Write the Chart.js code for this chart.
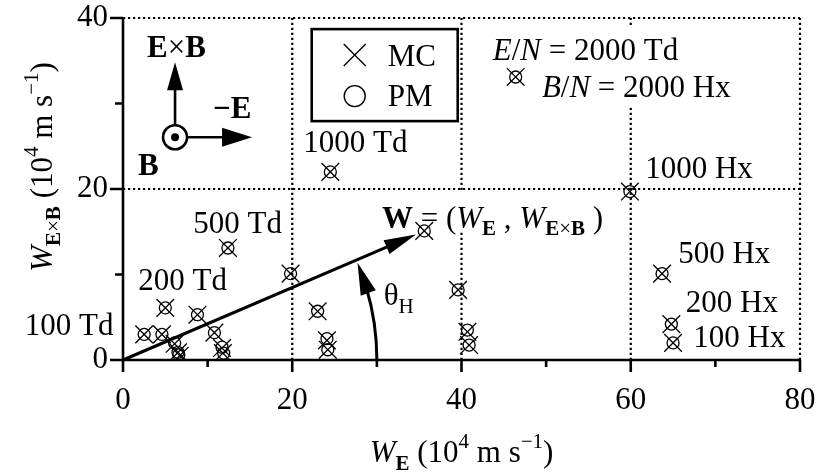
<!DOCTYPE html>
<html>
<head>
<meta charset="utf-8">
<title>Drift velocity components</title>
<script src="https://cdn.jsdelivr.net/npm/chart.js@4"></script>
<style>
  html, body { margin: 0; padding: 0; background: #fff; }
  #wrap { width: 825px; height: 472px; }
</style>
</head>
<body>
<div id="wrap"><canvas id="hallChart" width="825" height="472"></canvas></div>
<script>
const SERIF = '"Liberation Serif", "Times New Roman", serif';
const FS = 31;   // main text size
const FSS = 21;  // sub/superscript size

// axes
const xRange = [0, 80];
const yRange = [0, 40];
const xStep = 20, yStep = 20;
const xMinor = [10, 30, 50, 70];
const yMinor = [10, 30];

// drift velocity components, 10^4 m/s
const mcWE   = [2.5, 4.6, 5.0, 6.1, 6.5, 6.7, 8.8, 10.8, 11.7, 11.8, 12.4, 19.8, 23.0, 24.1, 24.2, 24.5, 35.6, 39.6, 40.7, 40.9, 46.4, 59.9, 63.7, 64.8, 65.0];
const mcWExB = [3.0, 3.0, 6.1, 1.9, 0.9, 0.5, 5.3, 3.2, 1.4, 0.8, 13.1, 10.1, 5.7, 2.3, 1.2, 22.0, 15.1, 8.2, 3.3, 1.75, 33.1, 19.7, 10.1, 4.2, 2.0];
const pmWE   = [2.5, 4.6, 5.0, 6.1, 6.5, 6.6, 8.8, 10.8, 11.7, 11.9, 12.4, 19.8, 23.0, 24.1, 24.2, 24.5, 35.6, 39.6, 40.7, 40.9, 46.4, 59.9, 63.7, 64.8, 65.0];
const pmWExB = [3.0, 3.0, 6.1, 2.0, 0.9, 0.6, 5.3, 3.2, 1.5, 0.8, 13.1, 10.1, 5.7, 2.5, 1.2, 22.0, 15.1, 8.2, 3.5, 1.75, 33.1, 19.7, 10.1, 4.2, 2.0];

// drift vector W and the radius of the Hall angle arc (in W_E units)
const wVector = [35.6, 15.1];
const arcRadius = 30;

// field labels next to the point groups
const fieldLabels = ['100 Td', '200 Td', '500 Td', '1000 Td', '1000 Hx', '500 Hx', '200 Hx', '100 Hx'];
const fieldLabelAt = [[-11.6, 2.9], [1.8, 8.2], [8.3, 14.85], [21.3, 24.35], [61.7, 21.3], [65.6, 11.35], [66.5, 5.6], [67.4, 1.5]];

const font = (size, style) => (style ? style + ' ' : '') + size + 'px ' + SERIF;

// draws a run of text pieces [text, font, dy] starting at x
function richText(ctx, parts, x, y, align) {
  let w = 0;
  parts.forEach(p => { ctx.font = p[1]; w += ctx.measureText(p[0]).width; });
  let cx = align === 'center' ? x - w / 2 : x;
  parts.forEach(p => {
    ctx.font = p[1];
    ctx.fillText(p[0], cx, y + (p[2] || 0));
    cx += ctx.measureText(p[0]).width;
  });
  return w;
}

function arrowHead(ctx, tx, ty, ang, len, half) {
  const c = Math.cos(ang), s = Math.sin(ang);
  ctx.beginPath();
  ctx.moveTo(tx, ty);
  ctx.lineTo(tx - len * c + half * s, ty - len * s - half * c);
  ctx.lineTo(tx - len * c - half * s, ty - len * s + half * c);
  ctx.closePath();
  ctx.fill();
}

// bold E x B with a light cross, as subscript (dy) or full size
const exb = (size, dy) => [['E', font(size, 'bold'), dy], ['\u00d7', font(size), dy], ['B', font(size, 'bold'), dy]];

const eqLabel = [
  [['E', font(FS, 'italic')], ['/', font(FS)], ['N', font(FS, 'italic')], [' = 2000 Td', font(FS)]],
  [['B', font(FS, 'italic')], ['/', font(FS)], ['N', font(FS, 'italic')], [' = 2000 Hx', font(FS)]]
];
const wLabel = [
  ['W', font(FS, 'bold')], [' = (', font(FS)], ['W', font(FS, 'italic')], ['E', font(FSS, 'bold'), 7],
  [' , ', font(FS)], ['W', font(FS, 'italic')]].concat(exb(FSS, 7), [[' )', font(FS)]]);

// grid, axes, ticks and the white patches under some labels
const frame = {
  id: 'frame',
  beforeDatasetsDraw(chart) {
    const { ctx, chartArea: a, scales: { x, y } } = chart;
    ctx.save();
    ctx.strokeStyle = '#000';
    ctx.lineWidth = 2.2;
    ctx.setLineDash([2.2, 2.8]);
    for (let v = xRange[0] + xStep; v <= xRange[1]; v += xStep) {
      const px = x.getPixelForValue(v);
      ctx.beginPath(); ctx.moveTo(px, a.bottom); ctx.lineTo(px, a.top); ctx.stroke();
    }
    for (let v = yRange[0] + yStep; v <= yRange[1]; v += yStep) {
      const py = y.getPixelForValue(v);
      ctx.beginPath(); ctx.moveTo(a.left, py); ctx.lineTo(a.right, py); ctx.stroke();
    }
    ctx.setLineDash([]);

    // label backgrounds
    ctx.fillStyle = '#fff';
    ctx.fillRect(x.getPixelForValue(57.6), y.getPixelForValue(38.9), 22, 80);
    ctx.fillRect(x.getPixelForValue(37.5), y.getPixelForValue(19.8), 40, 40);

    // solid axes with outward ticks
    ctx.lineWidth = 2.6;
    ctx.beginPath();
    ctx.moveTo(a.left, a.top); ctx.lineTo(a.left, a.bottom); ctx.lineTo(a.right, a.bottom);
    for (let v = xRange[0]; v <= xRange[1]; v += xStep) {
      const px = x.getPixelForValue(v);
      ctx.moveTo(px, a.bottom); ctx.lineTo(px, a.bottom + 12);
    }
    xMinor.forEach(v => { const px = x.getPixelForValue(v); ctx.moveTo(px, a.bottom); ctx.lineTo(px, a.bottom + 7); });
    for (let v = yRange[0]; v <= yRange[1]; v += yStep) {
      const py = y.getPixelForValue(v);
      ctx.moveTo(a.left, py); ctx.lineTo(a.left - 13, py);
    }
    yMinor.forEach(v => { const py = y.getPixelForValue(v); ctx.moveTo(a.left, py); ctx.lineTo(a.left - 8, py); });
    ctx.stroke();
    ctx.restore();
  },
  afterDatasetsDraw(chart) {
    const { ctx, chartArea: a, scales: { x, y } } = chart;
    ctx.save();
    ctx.fillStyle = '#000';
    ctx.strokeStyle = '#000';
    ctx.textBaseline = 'alphabetic';
    ctx.textAlign = 'left';

    // W arrow from the origin
    const x0 = x.getPixelForValue(0), y0 = y.getPixelForValue(0);
    const wx = x.getPixelForValue(wVector[0]), wy = y.getPixelForValue(wVector[1]);
    const ang = Math.atan2(wy - y0, wx - x0);
    const tipX = wx - 9 * Math.cos(ang), tipY = wy - 9 * Math.sin(ang);
    ctx.lineWidth = 3;
    ctx.beginPath();
    ctx.moveTo(x0, y0);
    ctx.lineTo(tipX - 25 * Math.cos(ang), tipY - 25 * Math.sin(ang));
    ctx.stroke();
    arrowHead(ctx, tipX, tipY, ang, 32, 7.5);

    // Hall angle arc
    const r = x.getPixelForValue(arcRadius) - x0;
    const endAng = ang + 0.012;
    const headSpan = 26 / r;
    ctx.beginPath();
    ctx.arc(x0, y0, r, 0, endAng + headSpan, true);
    ctx.stroke();
    const hx = x0 + r * Math.cos(endAng), hy = y0 + r * Math.sin(endAng);
    arrowHead(ctx, hx, hy, endAng - Math.PI / 2 + 0.05, 32, 8);
    richText(ctx, [['\u03b8', font(FS)], ['H', font(FSS), 8]], x.getPixelForValue(30.8), y.getPixelForValue(6.4), 'left');

    // field labels
    ctx.font = font(FS);
    fieldLabels.forEach((t, i) => ctx.fillText(t, x.getPixelForValue(fieldLabelAt[i][0]), y.getPixelForValue(fieldLabelAt[i][1])));
    richText(ctx, eqLabel[0], x.getPixelForValue(43.7), y.getPixelForValue(35.1), 'left');
    richText(ctx, eqLabel[1], x.getPixelForValue(49.5), y.getPixelForValue(30.75), 'left');
    richText(ctx, wLabel, x.getPixelForValue(30.6), y.getPixelForValue(15.45), 'left');

    // legend box
    const lx = x.getPixelForValue(22.3), ly = y.getPixelForValue(38.7);
    ctx.fillStyle = '#fff';
    ctx.fillRect(lx, ly, 146, 92);
    ctx.lineWidth = 2.6;
    ctx.strokeRect(lx, ly, 146, 92);
    ctx.fillStyle = '#000';
    ctx.lineWidth = 1.4;
    const mx = lx + 43;
    ctx.beginPath();
    ctx.moveTo(mx - 11, ly + 15); ctx.lineTo(mx + 11, ly + 37);
    ctx.moveTo(mx + 11, ly + 15); ctx.lineTo(mx - 11, ly + 37);
    ctx.stroke();
    ctx.beginPath(); ctx.arc(mx, ly + 67, 10.5, 0, Math.PI * 2); ctx.stroke();
    ctx.font = font(FS);
    chart.data.datasets.forEach((ds, i) => ctx.fillText(ds.label, lx + 76, ly + 37 + i * 40));

    // field orientation sketch
    const cx = x.getPixelForValue(6.15), cy = y.getPixelForValue(26.05);
    ctx.lineWidth = 2.6;
    ctx.beginPath(); ctx.arc(cx, cy, 12, 0, Math.PI * 2); ctx.stroke();
    ctx.beginPath(); ctx.arc(cx, cy, 4, 0, Math.PI * 2); ctx.fill();
    ctx.beginPath();
    ctx.moveTo(cx, cy - 12); ctx.lineTo(cx, cy - 50);
    ctx.moveTo(cx + 12, cy); ctx.lineTo(cx + 50, cy);
    ctx.stroke();
    arrowHead(ctx, cx, cy - 75, -Math.PI / 2, 28, 8);
    arrowHead(ctx, cx + 77, cy, 0, 30, 9.5);
    richText(ctx, exb(FS, 0), cx - 28, cy - 80, 'left');
    ctx.font = font(FS, 'bold');
    ctx.fillText('\u2212E', cx + 38, cy - 19);
    ctx.fillText('B', cx - 37, cy + 38);

    // axis titles
    const unit = [[' (10', font(FS)], ['4', font(FSS), -14], [' m s', font(FS)], ['\u22121', font(FSS), -14], [')', font(FS)]];
    richText(ctx, [['W', font(FS, 'italic')], ['E', font(FSS, 'bold'), 8]].concat(unit), (a.left + a.right) / 2, 462, 'center');
    ctx.translate(52, (a.top + a.bottom) / 2 - 22);
    ctx.rotate(-Math.PI / 2);
    richText(ctx, [['W', font(FS, 'italic')]].concat(exb(FSS, 8), unit), 0, 0, 'center');
    ctx.restore();
  }
};

const pts = (xs, ys) => xs.map((v, i) => ({ x: v, y: ys[i] }));

// keep the plot frame fixed: tick labels may overhang the padding
const noOverhang = s => { s.paddingLeft = 0; s.paddingRight = 0; s.paddingTop = 0; s.paddingBottom = 0; };

new Chart(document.getElementById('hallChart'), {
  type: 'scatter',
  data: {
    datasets: [
      { label: 'MC', data: pts(mcWE, mcWExB), pointStyle: 'crossRot', pointRadius: 12.5,
        borderColor: '#000', backgroundColor: 'rgba(0,0,0,0)', pointBorderWidth: 1.3 },
      { label: 'PM', data: pts(pmWE, pmWExB), pointStyle: 'circle', pointRadius: 6,
        borderColor: '#000', backgroundColor: 'rgba(0,0,0,0)', pointBorderWidth: 1.3 }
    ]
  },
  options: {
    responsive: false,
    animation: false,
    events: [],
    layout: { padding: { top: 18, right: 25, left: 0, bottom: 0 } },
    plugins: { legend: { display: false }, tooltip: { enabled: false } },
    scales: {
      x: {
        type: 'linear', min: xRange[0], max: xRange[1],
        grid: { display: false, drawTicks: false }, border: { display: false },
        ticks: { stepSize: xStep, color: '#000', font: { family: SERIF, size: FS }, padding: 22, maxRotation: 0 },
        afterFit: s => { s.height = 112; noOverhang(s); }
      },
      y: {
        type: 'linear', min: yRange[0], max: yRange[1],
        grid: { display: false, drawTicks: false }, border: { display: false },
        ticks: { stepSize: yStep, color: '#000', font: { family: SERIF, size: FS }, padding: 15 },
        afterFit: s => { s.width = 123; noOverhang(s); }
      }
    }
  },
  plugins: [frame]
});
</script>
</body>
</html>
